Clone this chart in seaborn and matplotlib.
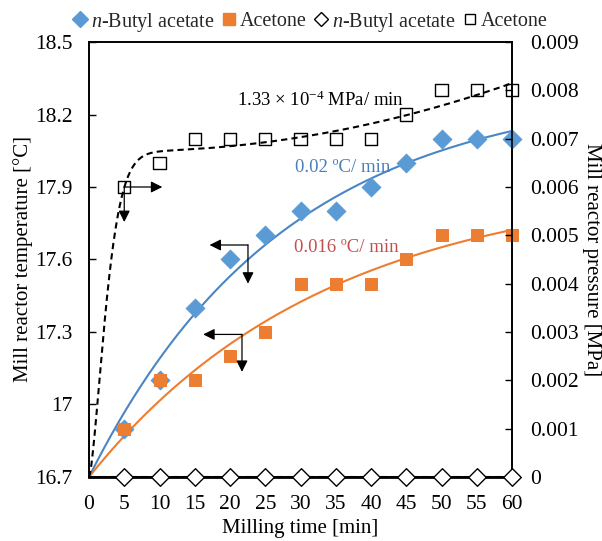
import numpy as np
import pandas as pd
import matplotlib
matplotlib.use("Agg")
import matplotlib.pyplot as plt
from matplotlib.lines import Line2D
import seaborn as sns

sns.set_theme(style="white")
plt.rcParams["font.family"] = ["Liberation Serif", "DejaVu Serif"]
plt.rcParams["mathtext.fontset"] = "custom"
plt.rcParams["mathtext.rm"] = "Liberation Serif"
plt.rcParams["mathtext.it"] = "Liberation Serif:italic"

# ---- data ----
time_min = [5, 10, 15, 20, 25, 30, 35, 40, 45, 50, 55, 60]
temp_butyl = [16.9, 17.1, 17.4, 17.6, 17.7, 17.8, 17.8, 17.9, 18.0, 18.1, 18.1, 18.1]
temp_acetone = [16.9, 17.1, 17.1, 17.2, 17.3, 17.5, 17.5, 17.5, 17.6, 17.7, 17.7, 17.7]
press_butyl = [0, 0, 0, 0, 0, 0, 0, 0, 0, 0, 0, 0]
press_acetone = [0.006, 0.0065, 0.007, 0.007, 0.007, 0.007, 0.007, 0.007, 0.0075, 0.008, 0.008, 0.008]
start_temp = 16.7
start_press = 0.0
x_ticks = list(range(0, 61, 5))
temp_ticks = [16.7, 17.0, 17.3, 17.6, 17.9, 18.2, 18.5]
temp_tick_labels = ["16.7", "17", "17.3", "17.6", "17.9", "18.2", "18.5"]
press_ticks = [0, 0.001, 0.002, 0.003, 0.004, 0.005, 0.006, 0.007, 0.008, 0.009]
press_tick_labels = ["0", "0.001", "0.002", "0.003", "0.004", "0.005", "0.006", "0.007", "0.008", "0.009"]
legend_labels = ["$n$-Butyl acetate", "Acetone", "$n$-Butyl acetate", "Acetone"]

BLUE = "#5B9BD5"
BLUE_LINE = "#4A86C5"
ORANGE = "#ED7D31"


# ---- trend fits (least squares on the data) ----
def fit_saturating(t, y, y0):
    t = np.asarray(t, float)
    d = np.asarray(y, float) - y0
    best = None
    for k in np.linspace(0.005, 0.3, 600):
        b = 1 - np.exp(-k * t)
        A = (b @ d) / (b @ b)
        sse = np.sum((A * b - d) ** 2)
        if best is None or sse < best[0]:
            best = (sse, k, A)
    _, k, A = best
    return lambda tt: y0 + A * (1 - np.exp(-k * tt))


def fit_pressure(t, y, y0):
    t = np.concatenate([[0.0], np.asarray(t, float)])
    d = np.concatenate([[y0], np.asarray(y, float)]) - y0
    best = None
    for n in (1.5, 2.0):
        for k in np.linspace(0.02, 1.0, 400):
            X = np.column_stack([1 - np.exp(-k * t ** n), t, t ** 2])
            coef, *_ = np.linalg.lstsq(X, d, rcond=None)
            sse = np.sum((X @ coef - d) ** 2)
            if best is None or sse < best[0]:
                best = (sse, n, k, coef)
    _, n, k, c = best
    return lambda tt: y0 + c[0] * (1 - np.exp(-k * tt ** n)) + c[1] * tt + c[2] * tt ** 2


tt = np.linspace(0, 60, 400)
f_b = fit_saturating(time_min, temp_butyl, start_temp)
f_a = fit_saturating(time_min, temp_acetone, start_temp)
f_p = fit_pressure(time_min, press_acetone, start_press)

df = pd.DataFrame({"t": time_min, "Tb": temp_butyl, "Ta": temp_acetone,
                   "Pb": press_butyl, "Pa": press_acetone})
trend = pd.DataFrame({"t": tt, "Tb": f_b(tt), "Ta": f_a(tt), "Pa": f_p(tt)})
zero_line = pd.DataFrame({"t": [0] + time_min, "Pb": [start_press] + press_butyl})

# ---- figure ----
fig = plt.figure(figsize=(6.02, 5.41), dpi=100)
ax = fig.add_axes([89 / 602, 1 - 477 / 541, 423 / 602, 435 / 541])
ax2 = ax.twinx()

FS_TICK = 15.5
FS_LAB = 15
FS_ANN = 13.5

sns.lineplot(data=trend, x="t", y="Tb", ax=ax, color=BLUE_LINE, lw=1.5, zorder=3)
sns.lineplot(data=trend, x="t", y="Ta", ax=ax, color=ORANGE, lw=1.5, zorder=3)
sns.scatterplot(data=df, x="t", y="Tb", ax=ax, marker="D", s=90, color=BLUE,
                edgecolor=BLUE, zorder=4, clip_on=False)
sns.scatterplot(data=df, x="t", y="Ta", ax=ax, marker="s", s=75, color=ORANGE,
                edgecolor=ORANGE, zorder=5, clip_on=False)

sns.lineplot(data=trend, x="t", y="Pa", ax=ax2, color="black", lw=1.5,
             linestyle=(0, (3, 2)), zorder=3)
sns.lineplot(data=zero_line, x="t", y="Pb", ax=ax2, color="black", lw=1.5,
             linestyle=(0, (3, 2)), zorder=3, clip_on=False)
sns.scatterplot(data=df, x="t", y="Pb", ax=ax2, marker="D", s=80, facecolor="white",
                edgecolor="black", linewidth=1.0, zorder=4, clip_on=False)
sns.scatterplot(data=df, x="t", y="Pa", ax=ax2, marker="s", s=75, facecolor="none",
                edgecolor="black", linewidth=1.0, zorder=4, clip_on=False)

ax.set_xlim(0, 60)
ax.set_ylim(16.7, 18.5)
ax2.set_ylim(0, 0.009)
ax.set_xticks(x_ticks)
ax.set_xticklabels([str(v) for v in x_ticks], fontsize=FS_TICK)
ax.set_yticks(temp_ticks)
ax.set_yticklabels(temp_tick_labels, fontsize=FS_TICK)
ax2.set_yticks(press_ticks)
ax2.set_yticklabels(press_tick_labels, fontsize=FS_TICK)

ax.tick_params(axis="x", length=0, pad=13, colors="black")
ax.tick_params(axis="y", direction="in", length=5, width=1, pad=12, colors="black")
ax2.tick_params(axis="y", direction="in", length=5, width=1, pad=13, colors="black")

for a in (ax, ax2):
    for s in a.spines.values():
        s.set_color("black")
        s.set_linewidth(1.2)
ax.spines["bottom"].set_linewidth(2.0)

ax.set_xlabel("Milling time [min]", fontsize=FS_LAB, color="black", va="center")
ax.xaxis.set_label_coords(0.5, -(529 - 477) / 435)
ax.set_ylabel("Mill reactor temperature [°C]", fontsize=FS_LAB, color="black",
              va="center", ha="center")
ax.yaxis.set_label_coords((23 - 89) / 423, 0.5)
ax2.set_ylabel("Mill reactor pressure [MPa]", fontsize=FS_LAB, color="black",
               rotation=270, va="center", ha="center")
ax2.yaxis.set_label_coords((592 - 89) / 423, 0.5)

# ---- annotations ----
ax.text(21.0, 18.26, "1.33 × 10$^{-4}$ MPa/ min", fontsize=FS_ANN, color="black",
        va="center", ha="left")
ax.text(29.2, 17.98, "0.02 ºC/ min", fontsize=FS_ANN, color="#4A7EBB", va="center", ha="left")
ax.text(29.1, 17.65, "0.016 ºC/ min", fontsize=FS_ANN, color="#C0504D", va="center", ha="left")

arrow = dict(arrowstyle="-|>", color="black", lw=0.9, mutation_scale=17,
             shrinkA=0, shrinkB=0)
# (start point, side tip, down tip)
arrows = [((5.0, 17.9), (10.4, 17.9), (5.0, 17.755)),
          ((22.55, 17.66), (17.1, 17.66), (22.55, 17.5)),
          ((21.7, 17.29), (16.2, 17.29), (21.7, 17.135))]
for start, side, down in arrows:
    ax.annotate("", xy=side, xytext=start, arrowprops=arrow, zorder=6)
    ax.annotate("", xy=down, xytext=start, arrowprops=arrow, zorder=6)

# ---- legend ----
handles = [
    Line2D([], [], marker="D", ls="", color=BLUE, markersize=8),
    Line2D([], [], marker="s", ls="", color=ORANGE, markersize=8),
    Line2D([], [], marker="D", ls="", markerfacecolor="white", markeredgecolor="black",
           markersize=7, markeredgewidth=1.0),
    Line2D([], [], marker="s", ls="", markerfacecolor="white", markeredgecolor="black",
           markersize=7, markeredgewidth=1.0),
]
fig.legend(handles, legend_labels, loc="center", bbox_to_anchor=(310 / 602, 1 - 22 / 541),
           ncol=4, frameon=False, fontsize=14.5, handlelength=0.8, handletextpad=0.15,
           columnspacing=0.3, borderpad=0)

fig.savefig("out.png", dpi=100)
